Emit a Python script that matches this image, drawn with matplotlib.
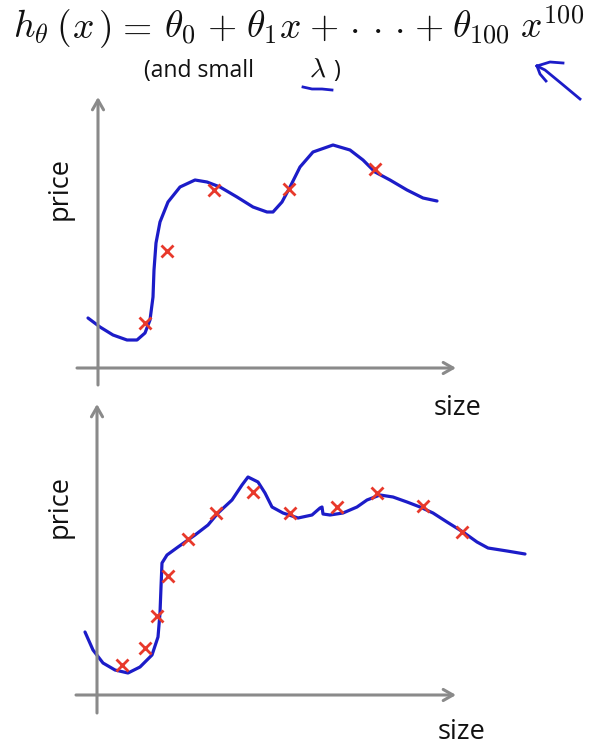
import matplotlib.pyplot as plt

# Pixel-space values (x right, y down)
top_curve_x = [88, 100, 113, 127, 137, 145, 150, 153, 154, 156, 160, 168, 180, 195, 207, 220,
               237, 253, 267, 273, 282, 290, 300, 313, 333, 350, 363, 375, 390, 407, 423, 437]
top_curve_y = [318, 327, 335, 340, 340, 333, 320, 297, 270, 243, 222, 202, 187, 180, 182, 187,
               197, 207, 212, 212, 202, 187, 167, 152, 145, 150, 160, 172, 180, 190, 198, 201]
top_pts_x = [145, 167, 214, 289, 375]
top_pts_y = [323, 251, 190, 189, 169]

bot_curve_x = [85, 93, 103, 115, 128, 140, 152, 158, 160, 161, 162, 167, 178, 195, 208, 218,
               232, 242, 248, 258, 265, 272, 283, 298, 312, 320, 322, 323, 330, 343, 357, 367,
               380, 393, 407, 420, 433, 447, 463, 477, 488, 507, 525]
bot_curve_y = [632, 650, 663, 670, 673, 667, 655, 637, 613, 587, 563, 555, 547, 535, 525, 513,
               500, 485, 477, 482, 493, 507, 513, 518, 515, 508, 507, 514, 515, 513, 507, 500,
               495, 497, 502, 507, 513, 522, 532, 542, 548, 551, 554]
bot_pts_x = [122, 145, 157, 168, 188, 216, 253, 290, 337, 377, 423, 462]
bot_pts_y = [665, 648, 616, 576, 539, 513, 492, 513, 507, 493, 506, 532]

W, H = 595, 749
BLUE = "#1c1cc8"
RED = "#e8392b"
GRAY = "#8a8a8a"
INK = "#111111"

plt.rcParams["mathtext.fontset"] = "cm"

fig = plt.figure(figsize=(W / 100, H / 100), dpi=100)
ax = fig.add_axes([0, 0, 1, 1])
ax.set_xlim(0, W)
ax.set_ylim(H, 0)
ax.axis("off")


def draw_axes(x0, y_top, y_bot, x_left, x_right, y0):
    arrow = dict(arrowstyle="->,head_length=0.7,head_width=0.4", color=GRAY, lw=2.2,
                 shrinkA=0, shrinkB=0)
    ax.annotate("", xy=(x0, y_top), xytext=(x0, y_bot), arrowprops=arrow)
    ax.annotate("", xy=(x_right, y0), xytext=(x_left, y0), arrowprops=arrow)


draw_axes(98, 97, 385, 77, 456, 368)
draw_axes(97, 404, 713, 76, 456, 695)

for cx, cy, px, py in [(top_curve_x, top_curve_y, top_pts_x, top_pts_y),
                       (bot_curve_x, bot_curve_y, bot_pts_x, bot_pts_y)]:
    ax.plot(cx, cy, color=BLUE, lw=2.3, solid_capstyle="round", solid_joinstyle="round")
    ax.plot(px, py, "x", color=RED, ms=8, mew=2)

label_kw = dict(fontsize=19.5, family="Open Sans", color=INK)
ax.text(60, 188, "price", rotation=90, ha="center", va="center", **label_kw)
ax.text(60, 506, "price", rotation=90, ha="center", va="center", **label_kw)
ax.text(458, 408, "size", ha="center", va="center", **label_kw)
ax.text(462, 732, "size", ha="center", va="center", **label_kw)

# hypothesis, laid out glyph group by glyph group (the slide is stretched sideways)
pieces = [
    (r"$h_\theta$", 31), (r"$($", 63), (r"$x$", 83), (r"$)$", 105), (r"$=$", 134),
    (r"$\theta_0$", 180), (r"$+$", 222), (r"$\theta_1$", 261), (r"$x$", 290),
    (r"$+$", 324), (r"$\cdot$", 354), (r"$\cdot$", 377), (r"$\cdot$", 399),
    (r"$+$", 429), (r"$\theta_{100}$", 481), (r"$x^{100}$", 552),
]
for s, x in pieces:
    ax.text(x, 38, s, ha="center", va="baseline", fontsize=27, color=INK)

ax.text(144, 77, "(and small", ha="left", va="baseline", fontsize=16.5,
        family="Open Sans", color=INK)
ax.text(309, 77, r"$\lambda$", ha="left", va="baseline", fontsize=20, color=INK)
ax.text(333, 77, ")", ha="left", va="baseline", fontsize=16.5, family="Open Sans", color=INK)

# hand-drawn blue marks
ax.plot([303, 312, 322, 332], [87, 89, 89, 90], color=BLUE, lw=2)
ax.plot([580, 562, 545, 537], [99, 84, 70, 66], color=BLUE, lw=2)
ax.plot([537, 550, 563], [66, 62, 63], color=BLUE, lw=2)
ax.plot([537, 540, 546], [66, 74, 81], color=BLUE, lw=2)

fig.savefig("out.png", dpi=100)
